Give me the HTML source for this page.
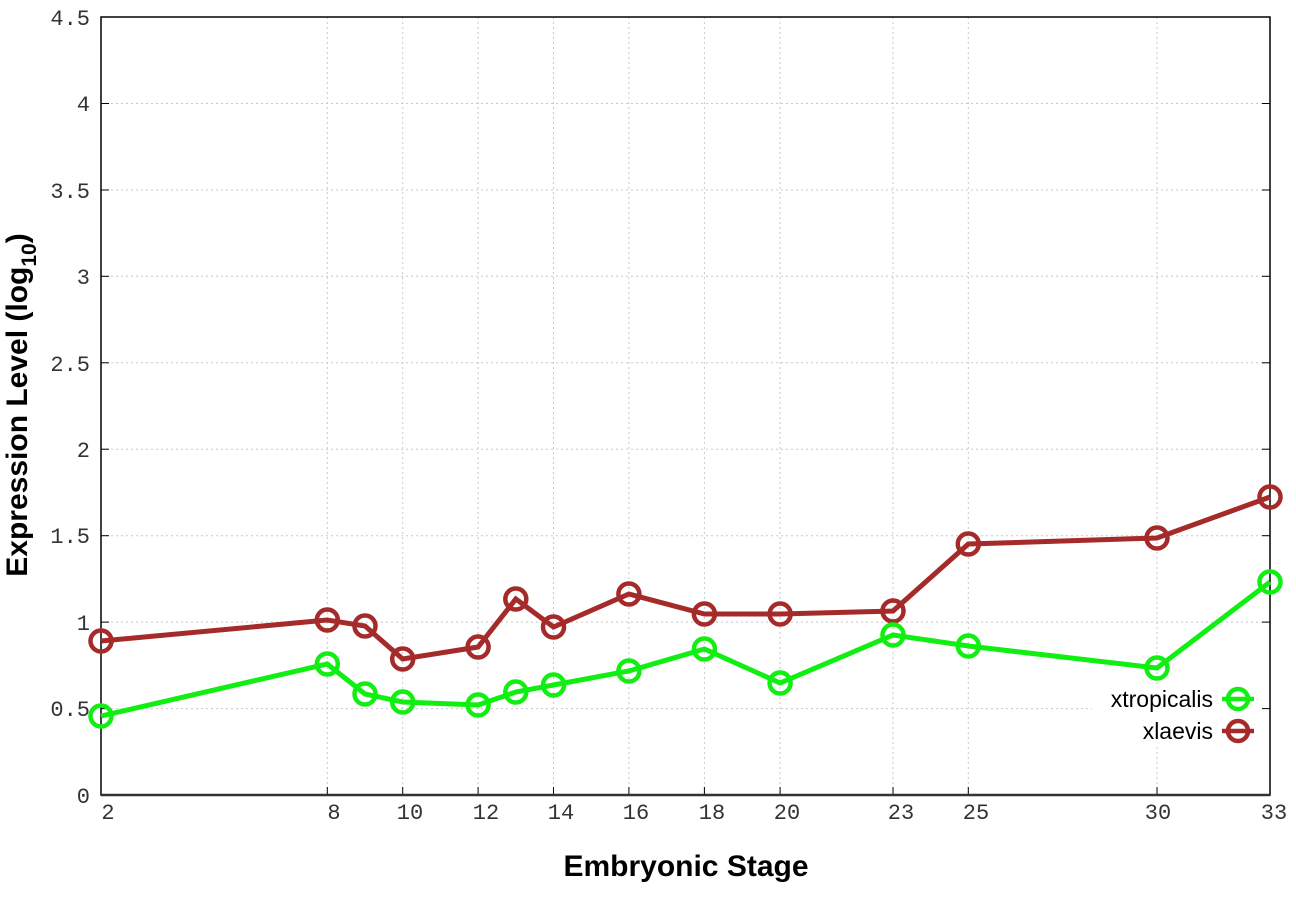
<!DOCTYPE html>
<html><head><meta charset="utf-8"><style>html,body{margin:0;padding:0;background:#fff}svg{display:block}</style></head>
<body>
<svg width="1296" height="907" viewBox="0 0 1296 907" xmlns="http://www.w3.org/2000/svg">
<rect width="1296" height="907" fill="#fff"/>
<g stroke="#c8c8c8" stroke-width="1" stroke-dasharray="2,3">
<line x1="101" y1="103.5" x2="1270" y2="103.5"/>
<line x1="101" y1="190" x2="1270" y2="190"/>
<line x1="101" y1="276.3" x2="1270" y2="276.3"/>
<line x1="101" y1="362.8" x2="1270" y2="362.8"/>
<line x1="101" y1="449.2" x2="1270" y2="449.2"/>
<line x1="101" y1="535.7" x2="1270" y2="535.7"/>
<line x1="101" y1="622.1" x2="1270" y2="622.1"/>
<line x1="101" y1="708.6" x2="1270" y2="708.6"/>
<line x1="327.3" y1="17" x2="327.3" y2="795"/>
<line x1="402.7" y1="17" x2="402.7" y2="795"/>
<line x1="478.1" y1="17" x2="478.1" y2="795"/>
<line x1="553.5" y1="17" x2="553.5" y2="795"/>
<line x1="628.9" y1="17" x2="628.9" y2="795"/>
<line x1="704.4" y1="17" x2="704.4" y2="795"/>
<line x1="780.1" y1="17" x2="780.1" y2="795"/>
<line x1="893" y1="17" x2="893" y2="795"/>
<line x1="968.3" y1="17" x2="968.3" y2="795"/>
<line x1="1157" y1="17" x2="1157" y2="795"/>
</g>
<rect x="1092" y="684" width="170" height="62" fill="#fff"/>
<g stroke="#000" stroke-width="1">
<line x1="101" y1="103.5" x2="109" y2="103.5"/><line x1="1262" y1="103.5" x2="1270" y2="103.5"/>
<line x1="101" y1="190" x2="109" y2="190"/><line x1="1262" y1="190" x2="1270" y2="190"/>
<line x1="101" y1="276.3" x2="109" y2="276.3"/><line x1="1262" y1="276.3" x2="1270" y2="276.3"/>
<line x1="101" y1="362.8" x2="109" y2="362.8"/><line x1="1262" y1="362.8" x2="1270" y2="362.8"/>
<line x1="101" y1="449.2" x2="109" y2="449.2"/><line x1="1262" y1="449.2" x2="1270" y2="449.2"/>
<line x1="101" y1="535.7" x2="109" y2="535.7"/><line x1="1262" y1="535.7" x2="1270" y2="535.7"/>
<line x1="101" y1="622.1" x2="109" y2="622.1"/><line x1="1262" y1="622.1" x2="1270" y2="622.1"/>
<line x1="101" y1="708.6" x2="109" y2="708.6"/><line x1="1262" y1="708.6" x2="1270" y2="708.6"/>
<line x1="327.3" y1="787" x2="327.3" y2="795"/><line x1="402.7" y1="787" x2="402.7" y2="795"/>
<line x1="478.1" y1="787" x2="478.1" y2="795"/><line x1="553.5" y1="787" x2="553.5" y2="795"/>
<line x1="628.9" y1="787" x2="628.9" y2="795"/><line x1="704.4" y1="787" x2="704.4" y2="795"/>
<line x1="780.1" y1="787" x2="780.1" y2="795"/><line x1="893" y1="787" x2="893" y2="795"/>
<line x1="968.3" y1="787" x2="968.3" y2="795"/><line x1="1157" y1="787" x2="1157" y2="795"/>
</g>
<rect x="101" y="17" width="1169" height="778" fill="none" stroke="#000" stroke-width="1.5"/>
<line x1="101" y1="795" x2="1270" y2="795" stroke="#333" stroke-width="2.5"/>
<g font-family="'Liberation Mono',monospace" font-size="22" fill="#333" text-anchor="end">
<text x="90" y="25">4.5</text><text x="90" y="111">4</text><text x="90" y="198">3.5</text>
<text x="90" y="284">3</text><text x="90" y="371">2.5</text><text x="90" y="457">2</text>
<text x="90" y="543">1.5</text><text x="90" y="630">1</text><text x="90" y="716">0.5</text>
<text x="90" y="803">0</text>
</g>
<g font-family="'Liberation Mono',monospace" font-size="22" fill="#333" text-anchor="middle">
<text x="108" y="819">2</text><text x="334" y="819">8</text><text x="410" y="819">10</text>
<text x="486" y="819">12</text><text x="561" y="819">14</text><text x="636" y="819">16</text>
<text x="712" y="819">18</text><text x="787" y="819">20</text><text x="901" y="819">23</text>
<text x="976" y="819">25</text><text x="1158" y="819">30</text><text x="1274" y="819">33</text>
</g>
<text x="686" y="876" font-family="'Liberation Sans',sans-serif" font-weight="bold" font-size="30" text-anchor="middle" fill="#000">Embryonic Stage</text>
<text transform="translate(27,405) rotate(-90)" font-family="'Liberation Sans',sans-serif" font-weight="bold" font-size="30" text-anchor="middle" fill="#000">Expression Level (log<tspan font-size="21" dy="9">10</tspan><tspan dy="-9">)</tspan></text>
<g fill="none" stroke="#a52a2a" stroke-width="5">
<polyline points="101,641 327.3,620 365,626 402.7,659 478.1,647 515.8,599 553.5,627 628.9,594 704.4,614 780.1,614 893,611 968.3,544 1157,538 1270,497"/>
<g stroke-width="4.5">
<circle cx="101" cy="641" r="10.5"/><circle cx="327.3" cy="620" r="10.5"/><circle cx="365" cy="626" r="10.5"/><circle cx="402.7" cy="659" r="10.5"/><circle cx="478.1" cy="647" r="10.5"/><circle cx="515.8" cy="599" r="10.5"/><circle cx="553.5" cy="627" r="10.5"/><circle cx="628.9" cy="594" r="10.5"/><circle cx="704.4" cy="614" r="10.5"/><circle cx="780.1" cy="614" r="10.5"/><circle cx="893" cy="611" r="10.5"/><circle cx="968.3" cy="544" r="10.5"/><circle cx="1157" cy="538" r="10.5"/><circle cx="1270" cy="497" r="10.5"/>
</g></g>
<g fill="none" stroke="#11ee11" stroke-width="5">
<polyline points="101,716 327.3,664 365,694 402.7,702 478.1,705 515.8,692 553.5,685 628.9,671 704.4,649 780.1,683 893,635 968.3,646 1157,668 1270,582"/>
<g stroke-width="4.5">
<circle cx="101" cy="716" r="10.5"/><circle cx="327.3" cy="664" r="10.5"/><circle cx="365" cy="694" r="10.5"/><circle cx="402.7" cy="702" r="10.5"/><circle cx="478.1" cy="705" r="10.5"/><circle cx="515.8" cy="692" r="10.5"/><circle cx="553.5" cy="685" r="10.5"/><circle cx="628.9" cy="671" r="10.5"/><circle cx="704.4" cy="649" r="10.5"/><circle cx="780.1" cy="683" r="10.5"/><circle cx="893" cy="635" r="10.5"/><circle cx="968.3" cy="646" r="10.5"/><circle cx="1157" cy="668" r="10.5"/><circle cx="1270" cy="582" r="10.5"/>
</g></g>
<g font-family="'Liberation Sans',sans-serif" font-size="23" fill="#000" text-anchor="end">
<text x="1213" y="707">xtropicalis</text><text x="1213" y="739">xlaevis</text>
</g>
<g fill="none" stroke-width="4.5">
<line x1="1222" y1="699" x2="1254" y2="699" stroke="#11ee11"/><circle cx="1238" cy="699" r="10" stroke="#11ee11"/>
<line x1="1222" y1="731" x2="1254" y2="731" stroke="#a52a2a"/><circle cx="1238" cy="731" r="10" stroke="#a52a2a"/>
</g>
</svg>
</body></html>
